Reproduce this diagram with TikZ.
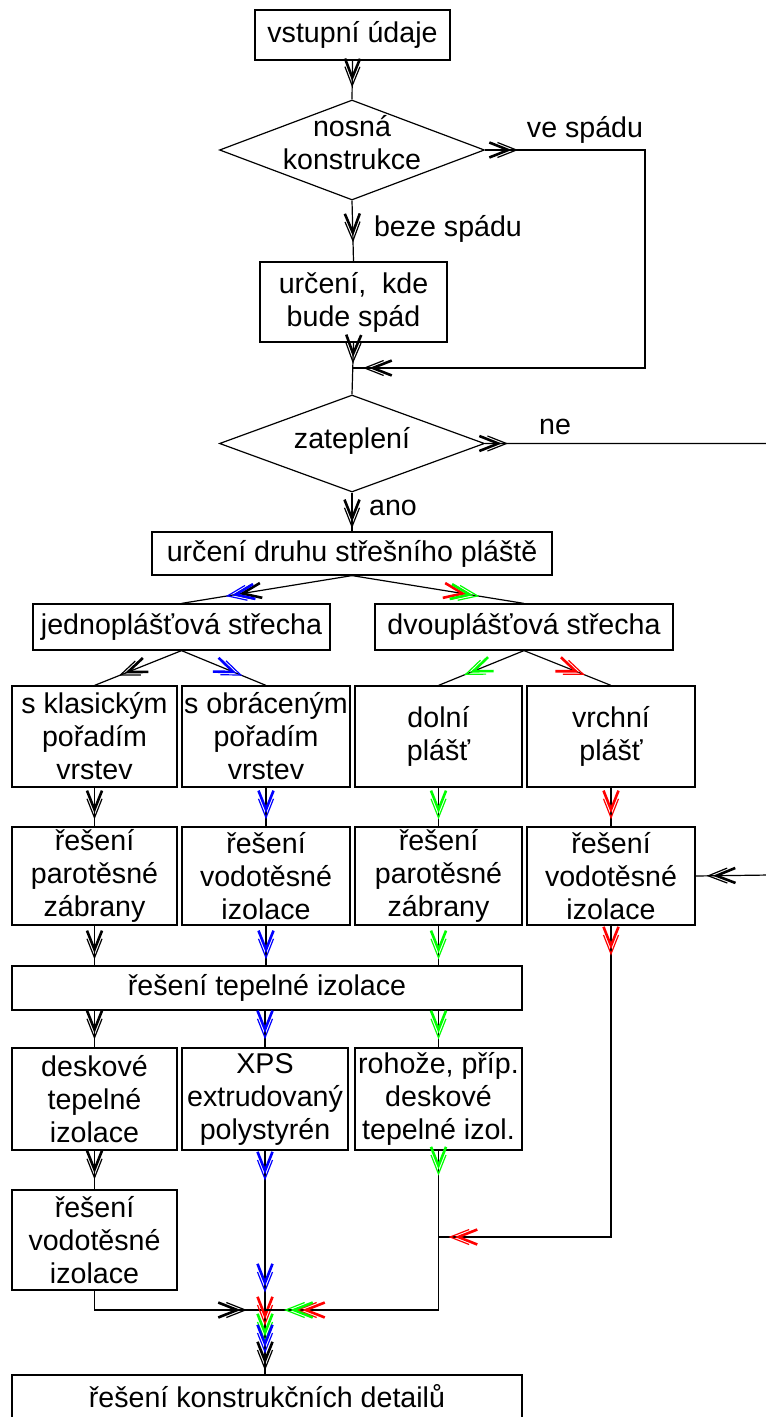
\documentclass[tikz,border=0pt]{standalone}
\usepackage{fontspec}
\setmainfont{Liberation Sans}
\usetikzlibrary{arrows.meta,decorations.markings,shapes.geometric}
\definecolor{cR}{RGB}{255,0,0}
\definecolor{cG}{RGB}{0,255,0}
\definecolor{cB}{RGB}{0,0,255}
\begin{document}
\begin{tikzpicture}[x=0.5pt,y=-0.5pt,
  font=\fontsize{14.3}{16.5}\selectfont,
  box/.style={draw, line width=0.6pt, inner sep=0pt, align=center},
  sz/.style 2 args={minimum width=#1pt, minimum height=#2pt},
  dia/.style={draw, diamond, line width=0.6pt, inner sep=0pt, minimum width=132.5pt},
  lbl/.style={inner sep=0pt, align=center},
  con/.style={line width=0.6pt},
  dbl/.tip={Straight Barb[length=9.5pt,width=7.5pt,line width=1.3pt,sep=-7.5pt]Straight Barb[length=9.5pt,width=7.5pt,line width=0.6pt]},
  mk/.style 2 args={postaction={decorate,decoration={markings,mark=at position #1 with {\arrow[#2]{dbl}}}}},
]
\useasboundingbox (0,0) rectangle (765,1417);
% nodes
\node[box, sz={97.5}{25}] (n1) at (352.5,35) {vstupní údaje};
\node[dia, minimum height=50pt] (d1) at (352,150) {};
\node[lbl] (t1) at (352,143) {nosná\\konstrukce};
\node[box, sz={93.5}{40}] (n2) at (353.5,302) {určení,\ \ kde\\bude spád};
\node[dia, minimum height=48.5pt] (d2) at (352,443.5) {};
\node[lbl] (t2) at (352,441) {zateplení};
\node[box, sz={200}{21.5}] (n3) at (352,553.5) {určení druhu střešního pláště};
\node[box, sz={148.5}{23}] (n4) at (181.5,627) {jednoplášťová střecha};
\node[box, sz={149}{23}] (n5) at (524,627) {dvouplášťová střecha};
\node[box, sz={82.5}{50.5}] (a1) at (94.5,736.5) {s klasickým\\pořadím\\vrstev};
\node[box, sz={84}{50.5}] (a2) at (266,736.5) {s obráceným\\pořadím\\vrstev};
\node[box, sz={83.5}{50.5}] (a3) at (438.5,736.5) {dolní\\plášť};
\node[box, sz={84}{50.5}] (a4) at (611,736.5) {vrchní\\plášť};
\node[box, sz={82.5}{49}] (b1) at (94.5,876) {řešení\\parotěsné\\zábrany};
\node[box, sz={84}{49}] (b2) at (266,876) {řešení\\vodotěsné\\izolace};
\node[box, sz={83.5}{49}] (b3) at (438.5,876) {řešení\\parotěsné\\zábrany};
\node[box, sz={84}{49}] (b4) at (611,876) {řešení\\vodotěsné\\izolace};
\node[box, sz={255}{22}] (tep) at (267,988) {řešení tepelné izolace};
\node[box, sz={82.5}{51}] (c1) at (94.5,1099) {deskové\\tepelné\\izolace};
\node[box, sz={83}{51}] (c2) at (265,1099) {XPS\\extrudovaný\\polystyrén};
\node[box, sz={83.5}{51}] (c3) at (438.5,1099) {rohože, příp.\\deskové\\tepelné izol.};
\node[box, sz={82.5}{50}] (e1) at (94.5,1240) {řešení\\vodotěsné\\izolace};
\node[box, sz={255}{21.5}] (fin) at (267,1396.5) {řešení konstrukčních detailů};
% labels
\node[lbl] (l1) at (585,130) {ve spádu};
\node[lbl] (l2) at (448,229) {beze spádu};
\node[lbl] (l3) at (555,427) {ne};
\node[lbl] (l4) at (393,508) {ano};
% coordinates
\coordinate (rt) at (645,368);
\coordinate (jn) at (352,368);
\coordinate (ne) at (770,875);
\coordinate (j3) at (438.5,1237);
\coordinate (jb) at (265,1310);
% connectors
\draw[con, mk={-6pt}{black}] (n1.south) -- (d1.north);
\draw[con, mk={16.5pt}{black}, mk={-5.5pt}{black}] (d1.east) -| (rt) -- (jn);
\draw[con, mk={-9.5pt}{black}] (d1.south) -- (n2.north);
\draw[con, mk={10.5pt}{black}] (n2.south) -- (d2.north);
\draw[con, mk={11.5pt}{black}, mk={-5.5pt}{black}] (d2.east) -| (ne) -- (b4.east);
\draw[con, mk={-1.5pt}{black}] (d2.south) -- (n3.north);
\draw[con, mk={0.70}{black}, mk={0.74}{cB}] (n3.south) -- (n4.north);
\draw[con, mk={0.70}{cR}, mk={0.74}{cG}] (n3.south) -- (n5.north);
\draw[con, mk={0.72}{black}] (n4.south) -- (a1.north);
\draw[con, mk={0.72}{cB}] (n4.south) -- (a2.north);
\draw[con, mk={0.70}{cG}] (n5.south) -- (a3.north);
\draw[con, mk={0.70}{cR}] (n5.south) -- (a4.north);
\draw[con, mk={-3.5pt}{black}] (a1.south) -- (b1.north);
\draw[con, mk={-3.5pt}{cB}] (a2.south) -- (b2.north);
\draw[con, mk={-3.5pt}{cG}] (a3.south) -- (b3.north);
\draw[con, mk={-3.5pt}{cR}] (a4.south) -- (b4.north);
\draw[con, mk={-3pt}{black}] (b1.south) -- (b1.south |- tep.north);
\draw[con, mk={-3pt}{cB}] (b2.south) -- (b2.south |- tep.north);
\draw[con, mk={-3pt}{cG}] (b3.south) -- (b3.south |- tep.north);
\draw[con, mk={15pt}{cR}, mk={-5pt}{cR}] (b4.south) |- (j3);
\draw[con, mk={-4pt}{black}] (tep.south -| c1.north) -- (c1.north);
\draw[con, mk={-4pt}{cB}] (tep.south -| c2.north) -- (c2.north);
\draw[con, mk={-4pt}{cG}] (tep.south -| c3.north) -- (c3.north);
\draw[con, mk={-5pt}{black}] (c1.south) -- (e1.north);
\draw[con, mk={-9pt}{black}] (e1.south) |- (jb);
\draw[con, mk={15pt}{cB}, mk={71pt}{cB}, mk={87.5pt}{cR}, mk={96pt}{cG}, mk={101.5pt}{cB}, mk={110pt}{black}] (c2.south) -- (c2.south |- fin.north);
\draw[con, mk={12.5pt}{cG}, mk={-15.5pt}{cR}, mk={-9.5pt}{cG}] (c3.south) |- (jb);
\end{tikzpicture}
\end{document}
